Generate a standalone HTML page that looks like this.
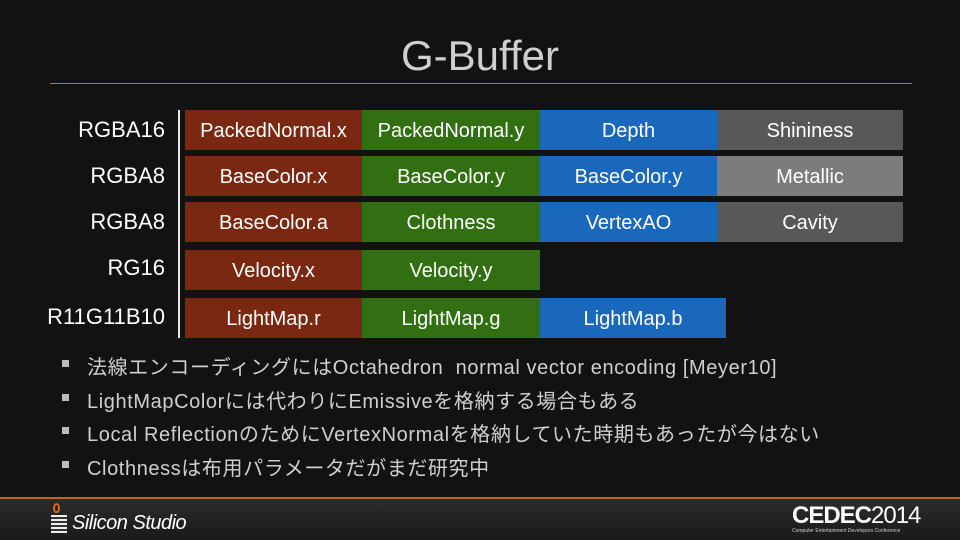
<!DOCTYPE html>
<html><head><meta charset="utf-8"><style>
*{margin:0;padding:0;box-sizing:border-box}
body{width:960px;height:540px;overflow:hidden;background:#121212;position:relative;font-family:"Liberation Sans","Noto Sans CJK JP",sans-serif;color:#fff}
.title{position:absolute;top:32px;left:0;width:960px;text-align:center;font-size:42px;color:#cfcfcf}
.hl{position:absolute;left:50px;width:862px;top:83px;height:1px;background:#d8681c}
.vl{position:absolute;left:178px;top:110px;width:2px;height:228px;background:#e8e8e8}
.lab{position:absolute;right:795px;font-size:22px;color:#fff;text-align:right;white-space:nowrap}
.c{position:absolute;height:40px;line-height:42px;text-align:center;font-size:20px;color:#fff;white-space:nowrap}
.r{background:#7a2811}.g{background:#316f12}.b{background:#1a68bb}.k{background:#585858}.l{background:#7c7c7c}
.bl{position:absolute;left:62px;width:7px;height:7px;background:#bcbcbc}
.bt{position:absolute;left:87px;font-size:20px;letter-spacing:0.6px;color:#cfcfcf;white-space:nowrap}
.foot{position:absolute;left:0;top:497px;width:960px;height:43px;background:linear-gradient(#2c2c2c,#1a1a1a);border-top:2px solid #c0651c}
</style></head><body>
<div class="title">G-Buffer</div>
<div class="hl"></div>
<div class="vl"></div>
<div class="lab" style="top:117px">RGBA16</div>
<div class="lab" style="top:163px">RGBA8</div>
<div class="lab" style="top:209px">RGBA8</div>
<div class="lab" style="top:255px">RG16</div>
<div class="lab" style="top:304px">R11G11B10</div>

<div class="c r" style="left:185px;width:177px;top:110px">PackedNormal.x</div>
<div class="c g" style="left:362px;width:178px;top:110px">PackedNormal.y</div>
<div class="c b" style="left:540px;width:177px;top:110px">Depth</div>
<div class="c k" style="left:717px;width:186px;top:110px">Shininess</div>

<div class="c r" style="left:185px;width:177px;top:156px">BaseColor.x</div>
<div class="c g" style="left:362px;width:178px;top:156px">BaseColor.y</div>
<div class="c b" style="left:540px;width:177px;top:156px">BaseColor.y</div>
<div class="c l" style="left:717px;width:186px;top:156px">Metallic</div>

<div class="c r" style="left:185px;width:177px;top:202px">BaseColor.a</div>
<div class="c g" style="left:362px;width:178px;top:202px">Clothness</div>
<div class="c b" style="left:540px;width:177px;top:202px">VertexAO</div>
<div class="c k" style="left:717px;width:186px;top:202px">Cavity</div>

<div class="c r" style="left:185px;width:177px;top:250px">Velocity.x</div>
<div class="c g" style="left:362px;width:178px;top:250px">Velocity.y</div>

<div class="c r" style="left:185px;width:177px;top:298px">LightMap.r</div>
<div class="c g" style="left:362px;width:178px;top:298px">LightMap.g</div>
<div class="c b" style="left:540px;width:186px;top:298px">LightMap.b</div>

<div class="bl" style="top:360px"></div><div class="bt" style="top:351px">法線エンコーディングにはOctahedron&nbsp; normal vector encoding [Meyer10]</div>
<div class="bl" style="top:394px"></div><div class="bt" style="top:385px">LightMapColorには代わりにEmissiveを格納する場合もある</div>
<div class="bl" style="top:427px"></div><div class="bt" style="top:418px">Local ReflectionのためにVertexNormalを格納していた時期もあったが今はない</div>
<div class="bl" style="top:461px"></div><div class="bt" style="top:452px">Clothnessは布用パラメータだがまだ研究中</div>

<div class="foot"></div>
<div style="position:absolute;left:53px;top:503px;width:7px;height:10px;border-radius:50% 50% 40% 40%;border:2px solid #d2691e"></div>
<div style="position:absolute;left:51px;top:515px;width:16px;height:18px;background:repeating-linear-gradient(#eee 0 2px,#333 2px 4px)"></div>
<div style="position:absolute;left:72px;top:512px;font-size:20px;font-style:italic;color:#fff;letter-spacing:-0.5px">Silicon Studio</div>
<div style="position:absolute;left:792px;top:502px;font-size:24px;font-weight:bold;color:#fff;letter-spacing:-1px">CEDEC<span style="font-weight:normal">2014</span></div>
<div style="position:absolute;left:792px;top:528px;font-size:5px;color:#ccc;white-space:nowrap">Computer Entertainment Developers Conference</div>
</body></html>
